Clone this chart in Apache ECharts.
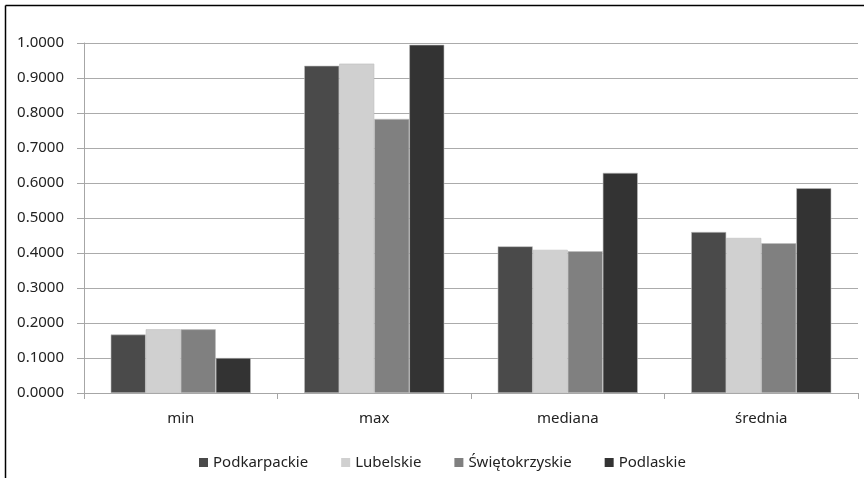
<!DOCTYPE html>
<html lang="pl">
<head>
<meta charset="UTF-8" />
<script src="https://cdn.jsdelivr.net/npm/echarts@6/dist/echarts.min.js"></script>
<style>
  html, body { margin: 0; padding: 0; background: #fff; }
  #main { width: 864px; height: 478px; }
</style>
</head>
<body>
<div id="main"></div>
<script>
// kategorie i wartości
var categories = ['min', 'max', 'mediana', 'średnia'];
var podkarpackie = [0.167, 0.935, 0.419, 0.460];
var lubelskie = [0.182, 0.941, 0.409, 0.443];
var swietokrzyskie = [0.182, 0.783, 0.405, 0.428];
var podlaskie = [0.100, 0.995, 0.629, 0.585];

var names = ['Podkarpackie', 'Lubelskie', 'Świętokrzyskie', 'Podlaskie'];
var colors = ['#4a4a4a', '#d0d0d0', '#808080', '#333333'];
var values = [podkarpackie, lubelskie, swietokrzyskie, podlaskie];

var font = 'Noto Sans';

var series = values.map(function (v, i) {
  return {
    name: names[i],
    type: 'bar',
    data: v,
    barGap: '0%',
    barCategoryGap: '27.6%',
    itemStyle: { color: colors[i], borderColor: '#bdbdbd', borderWidth: 0.6 }
  };
});

var myChart = echarts.init(document.getElementById('main'));
var option = {
  animation: false,
  color: colors,
  grid: { left: 84, right: 6, top: 43, bottom: 85, containLabel: false },
  legend: {
    bottom: 8,
    left: 199,
    padding: 0,
    icon: 'rect',
    itemWidth: 9,
    itemHeight: 9,
    itemGap: 33,
    itemStyle: { borderWidth: 0 },
    textStyle: { fontFamily: font, fontSize: 15, color: '#222' },
    data: names
  },
  xAxis: {
    type: 'category',
    data: categories,
    axisLine: { lineStyle: { color: '#a6a6a6', width: 1 } },
    axisTick: { show: true, length: 6, lineStyle: { color: '#a6a6a6' } },
    axisLabel: { margin: 18, fontFamily: font, fontSize: 15, color: '#222' }
  },
  yAxis: {
    type: 'value',
    min: 0,
    max: 1,
    interval: 0.1,
    axisLine: { show: true, lineStyle: { color: '#a6a6a6', width: 1 } },
    axisTick: { show: true, length: 7, lineStyle: { color: '#a6a6a6' } },
    splitLine: { lineStyle: { color: '#ababab', width: 1 } },
    axisLabel: {
      margin: 20,
      fontFamily: font,
      fontSize: 15,
      color: '#222',
      formatter: function (v) { return v.toFixed(4); }
    }
  },
  graphic: [
    { type: 'line', shape: { x1: 5.5, y1: 5.5, x2: 864, y2: 5.5 }, style: { stroke: '#000', lineWidth: 1.5 } },
    { type: 'line', shape: { x1: 5.5, y1: 5.5, x2: 5.5, y2: 478 }, style: { stroke: '#000', lineWidth: 1.5 } }
  ],
  series: series
};
myChart.setOption(option);
</script>
</body>
</html>
